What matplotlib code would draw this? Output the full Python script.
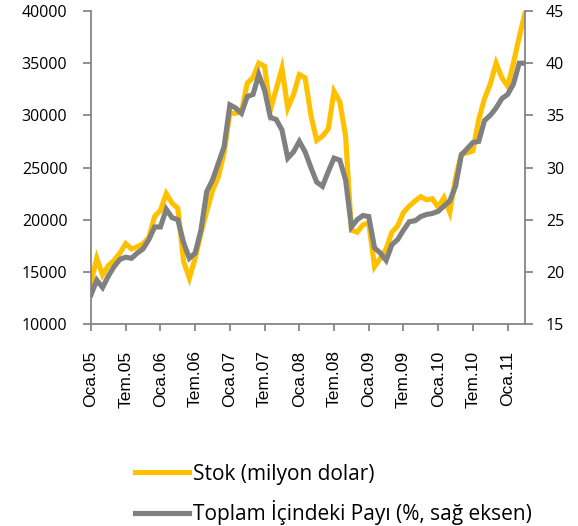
import numpy as np
import matplotlib
matplotlib.use("Agg")
import matplotlib.pyplot as plt

# monthly series, Jan 2005 - Apr 2011
stok = [14000, 16300, 14700, 15600, 16100, 16800, 17700, 17200, 17400, 17700,
        18300, 20300, 20900, 22500, 21600, 21100, 16000, 14400, 16300, 18700,
        20800, 22800, 24100, 26400, 30200, 30200, 30300, 33100, 33600, 35000,
        34700, 30500, 32500, 34500, 30700, 32000, 33900, 33600, 30000, 27600,
        28000, 28700, 32300, 31300, 28000, 19000, 18800, 19500, 19700, 15500,
        16300, 17200, 18800, 19400, 20700, 21300, 21800, 22200, 21900, 22000,
        21200, 22100, 20700, 24000, 26300, 26400, 26600, 29600, 31600, 33000,
        35000, 33600, 32800, 35000, 37500, 39800]
pay = [17.8, 19.2, 18.5, 19.6, 20.5, 21.2, 21.4, 21.3, 21.8, 22.2,
       23.1, 24.3, 24.3, 26.0, 25.2, 25.0, 22.8, 21.3, 21.8, 24.0,
       27.7, 28.8, 30.4, 32.0, 36.0, 35.7, 35.2, 36.8, 37.0, 38.9,
       37.4, 34.8, 34.6, 33.6, 30.9, 31.5, 32.5, 31.5, 30.0, 28.6,
       28.2, 29.6, 30.9, 30.7, 28.8, 24.3, 25.0, 25.4, 25.3, 22.3,
       21.8, 21.1, 22.6, 23.1, 24.0, 24.8, 24.9, 25.3, 25.5, 25.6,
       25.8, 26.3, 26.8, 28.2, 31.2, 31.8, 32.4, 32.5, 34.5, 35.0,
       35.7, 36.6, 37.0, 38.0, 40.0, 40.0]
tick_labels = ["Oca.05", "Tem.05", "Oca.06", "Tem.06", "Oca.07", "Tem.07", "Oca.08",
               "Tem.08", "Oca.09", "Tem.09", "Oca.10", "Tem.10", "Oca.11"]
labels = ["Stok (milyon dolar)", "Toplam İçindeki Payı (%, sağ eksen)"]

x = np.arange(len(stok))
axcol = "#868686"

fig = plt.figure(figsize=(5.78, 5.26), dpi=100)
ax = fig.add_axes([91/578, 1-324/526, (525-91)/578, (324-11)/526])
ax2 = ax.twinx()

l1, = ax.plot(x, stok, color="#FFC000", lw=3.7, solid_joinstyle="miter", zorder=2)
l2, = ax2.plot(x, pay, color="#808080", lw=3.7, solid_joinstyle="miter", zorder=3)

ax.set_xlim(0, len(stok)-1)
ax.set_ylim(10000, 40000)
ax.set_yticks(np.arange(10000, 40001, 5000))
ax2.set_ylim(15, 45)
ax2.set_yticks(np.arange(15, 46, 5))
ax.set_xticks(np.arange(0, len(stok), 6))
ax.set_xticklabels(tick_labels, rotation=90, fontsize=12.5, family="Liberation Sans")

for a in (ax, ax2):
    a.spines["top"].set_visible(False)
    for s in ("left", "right", "bottom"):
        a.spines[s].set_color(axcol)
        a.spines[s].set_linewidth(1.3)
    a.set_facecolor("none")
ax.spines["right"].set_visible(False)
ax2.spines["left"].set_visible(False)
ax2.spines["bottom"].set_visible(False)

ax.tick_params(axis="y", direction="out", length=6, width=1.3, color=axcol, pad=11,
               labelsize=11.5)
ax.tick_params(axis="x", direction="out", length=5, width=1.3, color=axcol, pad=14)
ax2.tick_params(axis="y", direction="out", length=6, width=1.3, color=axcol, pad=9,
                labelsize=11.5)
for t in ax.get_yticklabels() + ax2.get_yticklabels():
    t.set_family("Open Sans")

fig.legend([l1, l2], labels, loc="upper left", bbox_to_anchor=(116/578, 1-445/526),
           frameon=False, prop={"family": "Open Sans", "size": 15},
           handlelength=2.6, handletextpad=0.2, labelspacing=0.74)

fig.savefig("out.png", dpi=100)
